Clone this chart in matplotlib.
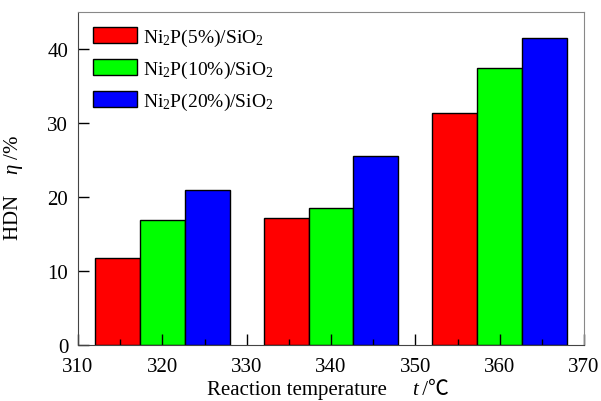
import numpy as np
import matplotlib.pyplot as plt
from matplotlib.ticker import MultipleLocator
from matplotlib.offsetbox import TextArea, HPacker, AnchoredOffsetbox

# reaction temperatures and HDN conversion for each catalyst loading
temps = [320, 340, 360]
ni5 = [11.7, 17.2, 31.4]
ni10 = [16.85, 18.5, 37.4]
ni20 = [21.0, 25.6, 41.5]
labels = ['Ni$_2$P(5%)/SiO$_2$', 'Ni$_2$P(10%)/SiO$_2$', 'Ni$_2$P(20%)/SiO$_2$']
colors = ['#ff0000', '#00ff00', '#0000ff']

plt.rcParams['font.family'] = ['Liberation Serif', 'Noto Sans CJK SC', 'DejaVu Sans']
plt.rcParams['mathtext.fontset'] = 'custom'
plt.rcParams['mathtext.rm'] = 'Liberation Serif'
plt.rcParams['mathtext.it'] = 'Liberation Serif:italic'

fs = 15

fig = plt.figure(figsize=(6.01, 4.02), dpi=100)
ax = fig.add_axes([78/601, 1 - 346/402, (584-78)/601, (346-13)/402])

w = 16/3
x = np.array(temps, dtype=float)
for k, (vals, c, lab) in enumerate(zip([ni5, ni10, ni20], colors, labels)):
  ax.bar(x + (k-1)*w, vals, width=w, color=c, edgecolor='black', linewidth=1.0, label=lab)

ax.set_xlim(310, 370)
ax.set_ylim(0, 45)
ax.xaxis.set_major_locator(MultipleLocator(10))
ax.xaxis.set_minor_locator(MultipleLocator(5))
ax.yaxis.set_major_locator(MultipleLocator(10))
ax.tick_params(axis='both', which='major', direction='in', length=8, width=1, labelsize=fs)
ax.tick_params(axis='x', which='major', pad=9)
ax.tick_params(axis='y', which='major', pad=7)
ax.tick_params(axis='x', which='minor', direction='in', length=4, width=1)
ax.tick_params(top=False, right=False)

for s in ['left', 'bottom']:
  ax.spines[s].set_color('#444444')
for s in ['top', 'right']:
  ax.spines[s].set_color('#888888')

# x label: upright text, italic t, then the degree Celsius sign
first = TextArea('Reaction temperature', textprops=dict(fontsize=fs))
tail = HPacker(children=[TextArea('t', textprops=dict(fontsize=fs, style='italic')),
                         TextArea(' /\u2103', textprops=dict(fontsize=fs, fontweight='light'))],
               align='baseline', pad=0, sep=0)
row = HPacker(children=[first, tail], align='baseline', pad=0, sep=18)
box = AnchoredOffsetbox(loc='center', child=row, pad=0, borderpad=0, frameon=False,
                        bbox_to_anchor=(0.494, -0.134), bbox_transform=ax.transAxes)
ax.add_artist(box)

ax.set_ylabel('HDN    $\\eta$ /%', fontsize=fs)
ax.yaxis.set_label_coords(-0.105, 0.474)

ax.legend(loc='upper left', bbox_to_anchor=(0.0, 1.0), frameon=False, fontsize=14,
          handlelength=2.3, handleheight=0.85, handletextpad=0.3, labelspacing=0.56,
          borderaxespad=0.35)

fig.savefig('out.png', dpi=100)
